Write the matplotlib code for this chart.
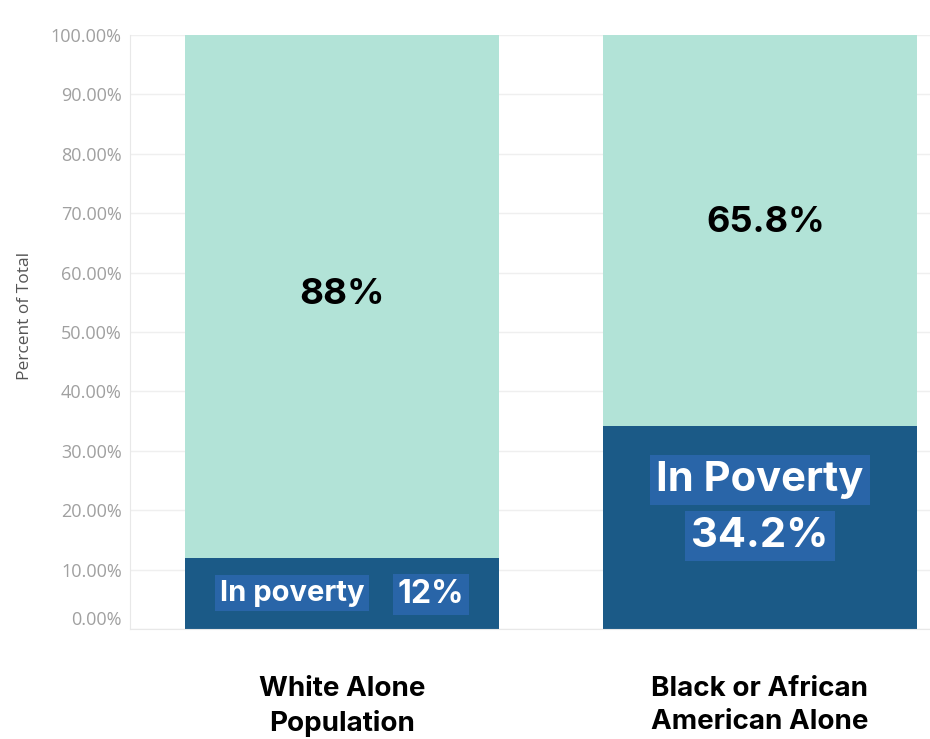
import matplotlib.pyplot as plt
import numpy as np

groups = ['White Alone\nPopulation', 'Black or African\nAmerican Alone']
in_poverty = [12.0, 34.2]
not_poverty = [88.0, 65.8]
yticks = [0, 10, 20, 30, 40, 50, 60, 70, 80, 90, 100]

dark = '#1b5a87'
light = '#b2e3d7'
label_bg = '#2965a8'
bold_font = ['Inter', 'DejaVu Sans']

fig = plt.figure(figsize=(9.3, 7.39), dpi=100)
# axes placed in pixels: x 130..930, y 35..629 (from top)
ax = fig.add_axes([130 / 930, 1 - 629 / 739, 800 / 930, 594 / 739])

x = np.arange(len(groups))
ax.bar(x, in_poverty, width=0.75, color=dark, zorder=2)
ax.bar(x, not_poverty, width=0.75, bottom=in_poverty, color=light, zorder=2)

ax.set_xlim(-0.507, 1.407)
ax.set_ylim(0, 100)
ax.set_yticks(yticks)
ax.set_yticklabels(['%.2f%%' % t for t in yticks], color='#a0a0a0', fontsize=13,
                   family=['Open Sans', 'DejaVu Sans'])
# tableau nudges the zero label up
ax.get_yticklabels()[0].set_va('bottom')
ax.tick_params(axis='y', length=0, pad=6)
ax.set_xticks([])
ax.grid(axis='y', color='#efefef', linewidth=1, zorder=0)
for s in ['top', 'right']:
    ax.spines[s].set_visible(False)
ax.spines['left'].set_color('#e8e8e8')
ax.spines['bottom'].set_color('#e8e8e8')
ax.set_ylabel('Percent of Total', fontsize=12.5, color='#555555',
              family=['Open Sans', 'DejaVu Sans'])
ax.yaxis.set_label_coords(-0.121, 0.527)

# upper segment values
ax.annotate('%g%%' % not_poverty[0], (x[0], in_poverty[0] + not_poverty[0] / 2),
            xytext=(0, 1), textcoords='offset points', ha='center', va='center',
            fontsize=26.5, fontweight='bold', family=bold_font, color='black')
ax.annotate('%g%%' % not_poverty[1], (x[1], in_poverty[1] + not_poverty[1] / 2),
            xytext=(4, 6), textcoords='offset points', ha='center', va='center',
            fontsize=26, fontweight='bold', family=bold_font, color='black')

# poverty labels with boxes
box = dict(boxstyle='square,pad=0.15', fc=label_bg, ec='none')
ax.annotate('In poverty', (x[0], in_poverty[0] / 2), xytext=(-36, 0),
            textcoords='offset points', ha='center', va='center',
            fontsize=21, fontweight='bold', family=bold_font, color='white', bbox=box)
ax.annotate('%g%%' % in_poverty[0], (x[0], in_poverty[0] / 2), xytext=(64, -1),
            textcoords='offset points', ha='center', va='center',
            fontsize=23, fontweight='bold', family=bold_font, color='white', bbox=box)
ax.annotate('In Poverty', (x[1], in_poverty[1] / 2), xytext=(0, 34),
            textcoords='offset points', ha='center', va='center',
            fontsize=30, fontweight='bold', family=bold_font, color='white', bbox=box)
ax.annotate('%g%%' % in_poverty[1], (x[1], in_poverty[1] / 2), xytext=(0, -6),
            textcoords='offset points', ha='center', va='center',
            fontsize=30, fontweight='bold', family=bold_font, color='white', bbox=box)

# category labels under bars
for xi, g in zip(x, groups):
    ax.annotate(g, (xi, 0), xytext=(0, -34), textcoords='offset points',
                ha='center', va='top', fontsize=20, fontweight='bold',
                family=bold_font, color='black', linespacing=1.35)

fig.savefig('out.png', dpi=100)
